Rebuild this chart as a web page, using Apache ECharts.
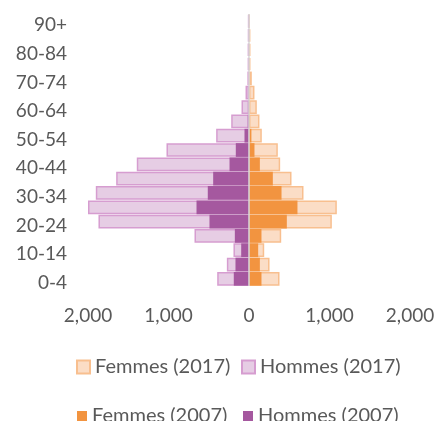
<!DOCTYPE html>
<html>
<head>
<meta charset="utf-8">
<script src="https://cdn.jsdelivr.net/npm/echarts@6/dist/echarts.min.js"></script>
<style>
    html, body {margin:0;padding:0;background:#fff;}
    #main {width:438px;height:421px;}
</style>
</head>
<body>
<div id="main"></div>
<script>
// tranches d'âge, du bas vers le haut
var ages = ['0-4','5-9','10-14','15-19','20-24','25-29','30-34','35-39','40-44','45-49',
            '50-54','55-59','60-64','65-69','70-74','75-79','80-84','85-89','90+'];
var hommes2017 = [395,275,193,677,1870,2000,1903,1650,1394,1025,408,221,93,43,20,15,15,12,10];
var femmes2017 = [379,255,189,400,1029,1091,677,528,387,358,159,130,97,68,35,18,18,16,3];
var hommes2007 = [189,168,97,176,491,652,512,445,242,164,56,15,8,5,3,2,2,1,1];
var femmes2007 = [155,135,114,155,470,602,404,296,135,68,30,10,6,4,2,2,1,1,0];
var xTicks = [-2000,-1000,0,1000,2000];

var font = 'Lato';
var textColor = '#595959';

function neg(arr){
    var out = [];
    for(var i=0;i<arr.length;i++){
        out.push(-arr[i]);
    }
    return out;
}
function fmt(v){
    return String(Math.abs(v)).replace(/\B(?=(\d{3})+(?!\d))/g, ',');
}
function legendItem(name,left,top,size){
    return {
        data:[name],
        left:left,
        top:top,
        padding:0,
        icon:'rect',
        itemWidth:size,
        itemHeight:size,
        selectedMode:false,
        textStyle:{fontFamily:font,fontSize:20,color:textColor}
    };
}

var myChart = echarts.init(document.getElementById('main'));
var option = {
    backgroundColor:'#ffffff',
    animation:false,
    legend:[
        legendItem('Femmes (2017)',76,357,13),
        legendItem('Hommes (2017)',241,357,13),
        legendItem('Femmes (2007)',77,406,10),
        legendItem('Hommes (2007)',243,406,10)
    ],
    grid:{left:88,right:28,top:14,height:272},
    xAxis:{
        type:'value',
        min:xTicks[0],
        max:xTicks[xTicks.length-1],
        interval:1000,
        axisLine:{show:false},
        axisTick:{show:false},
        splitLine:{show:false},
        axisLabel:{
            margin:20,
            fontFamily:font,
            fontSize:19,
            color:textColor,
            formatter:fmt
        }
    },
    yAxis:{
        type:'category',
        data:ages,
        axisLine:{show:false},
        axisTick:{show:false},
        axisLabel:{
            interval:1,
            margin:21,
            formatter:function(v){
                return '{a|' + v + '}';
            },
            rich:{
                a:{
                    padding:[8,0,0,0],
                    fontFamily:font,
                    fontSize:19,
                    color:textColor
                }
            }
        }
    },
    series:[
        {
            name:'Femmes (2017)',
            type:'bar',
            data:femmes2017,
            barGap:'-100%',
            barCategoryGap:'4%',
            itemStyle:{color:'#FBDDC6',borderColor:'#F8BF8F',borderWidth:1.5}
        },
        {
            name:'Hommes (2017)',
            type:'bar',
            data:neg(hommes2017),
            barGap:'-100%',
            barCategoryGap:'4%',
            itemStyle:{color:'#E6CDE4',borderColor:'#D69DD0',borderWidth:1.5}
        },
        {
            name:'Femmes (2007)',
            type:'bar',
            data:femmes2007,
            barGap:'-100%',
            barCategoryGap:'4%',
            itemStyle:{color:'#F29440'}
        },
        {
            name:'Hommes (2007)',
            type:'bar',
            data:neg(hommes2007),
            barGap:'-100%',
            barCategoryGap:'4%',
            itemStyle:{color:'#A5589F'},
            markLine:{
                silent:true,
                symbol:['none','none'],
                label:{show:false},
                lineStyle:{color:'#D9D9D9',width:1.5,type:'solid'},
                data:[{xAxis:0}]
            }
        }
    ]
};
myChart.setOption(option);
</script>
</body>
</html>
